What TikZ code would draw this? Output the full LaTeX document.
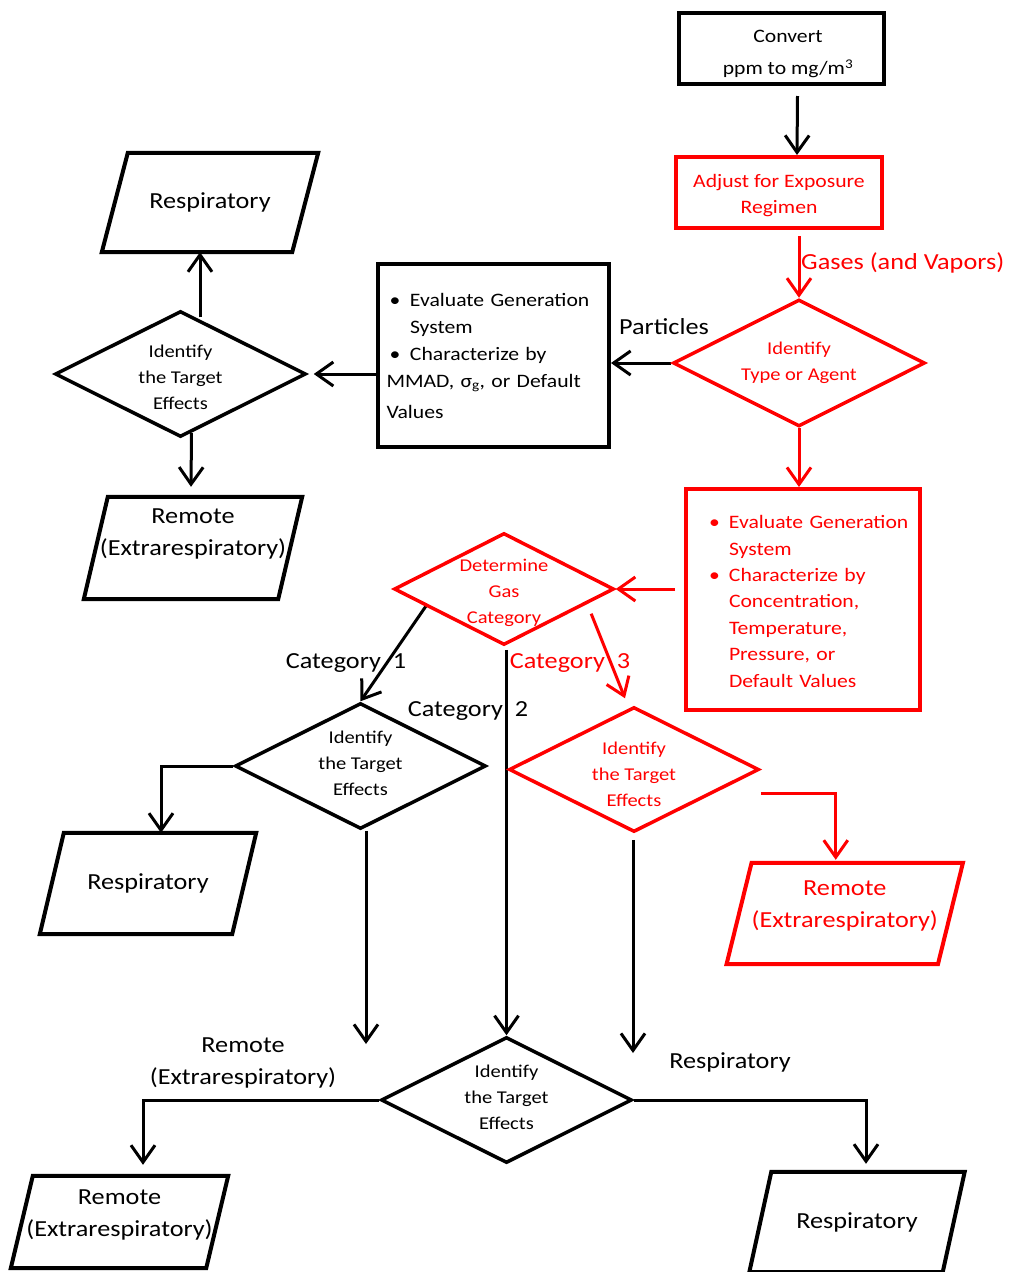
\documentclass[tikz,border=0pt]{standalone}
\usepackage{fontspec}
\setmainfont{Carlito}[FakeStretch=1.14]
\usepackage{tikz}
\usetikzlibrary{shapes.geometric,arrows.meta,calc}
\pgfdeclarelayer{edgelayer}
\pgfdeclarelayer{nodelayer}
\pgfsetlayers{edgelayer,nodelayer,main}
\tikzstyle{box}=[rectangle, draw=black, line width=4pt, inner sep=0pt, align=center, font=\fontsize{19}{26}\selectfont]
\tikzstyle{redbox}=[box, draw=red, text=red]
\tikzstyle{choice}=[diamond, aspect=2, draw=black, line width=3.5pt, inner sep=-20pt, minimum width=251pt, minimum height=126pt, align=center, font=\fontsize{18}{26}\selectfont]
\tikzstyle{redchoice}=[choice, draw=red, text=red]
\tikzstyle{effect}=[rectangle, inner sep=0pt, minimum width=216pt, minimum height=100pt, align=center, font=\fontsize{23}{32}\selectfont]
\tikzstyle{slant}=[draw=black, line width=4pt]
\tikzstyle{tag}=[inner sep=0pt, align=center, font=\fontsize{23}{32}\selectfont]
\tikzstyle{flow}=[draw=black, line width=3pt, -{Straight Barb[length=17pt, width=24pt]}]
\tikzstyle{redflow}=[flow, draw=red]

\begin{document}
\begin{tikzpicture}[x=1pt, y=-1pt]
	\useasboundingbox (0,0) rectangle (1010,1272);
	\begin{pgfonlayer}{nodelayer}
		\node [style=box, minimum width=205pt, minimum height=71pt] (0) at (781.5,48.5) {\hspace*{13pt}\raisebox{-9pt}[0pt][0pt]{\begin{tabular}{@{}c@{}}Convert\\[6pt]ppm to mg/m\textsuperscript{3}\end{tabular}}};
		\node [style=redbox, minimum width=206pt, minimum height=71pt] (1) at (779,192.5) {\rule{0pt}{19pt}Adjust for Exposure\\Regimen};
		\node [style=redchoice, minimum width=252pt, minimum height=127pt] (2) at (799,363) {Identify\\Type or Agent};
		\node [style=box, minimum width=231pt, minimum height=183pt, text width=214pt, align=left, font=\fontsize{19}{27}\selectfont] (3) at (493.5,355.5) {\hspace*{3pt}\makebox[20.5pt][l]{\textbullet}Evaluate Generation\\\hspace*{23.5pt}System\\\hspace*{3pt}\makebox[20.5pt][l]{\textbullet}Characterize by\\MMAD, σ\textsubscript{g}, or Default\\[4pt]Values};
		\node [style=choice] (4) at (180.5,374) {\rule{0pt}{19pt}Identify\\the Target\\Effects};
		\node [style=effect, minimum height=99pt] (5) at (210,202.5) {Respiratory};
		\node [style=effect, minimum width=218pt, minimum height=102pt] (6) at (193,548) {Remote\\(Extrarespiratory)\\\mbox{}};
		\node [style=redbox, minimum width=234pt, minimum height=221pt, text width=214pt, align=left, font=\fontsize{19}{26.4}\selectfont] (7) at (803,599.5) {\rule{0pt}{17pt}\hspace*{13pt}\makebox[20pt][l]{\textbullet}Evaluate Generation\\\hspace*{33pt}System\\\hspace*{13pt}\makebox[20pt][l]{\textbullet}Characterize by\\\hspace*{33pt}Concentration,\\\hspace*{33pt}Temperature,\\\hspace*{33pt}Pressure, or\\\hspace*{33pt}Default Values};
		\node [style=redchoice, minimum width=220pt, minimum height=112pt] (8) at (504,589) {\rule{0pt}{21pt}Determine\\Gas\\Category};
		\node [style=choice] (9) at (360.5,766) {Identify\\the Target\\Effects\\[-20pt]\mbox{}};
		\node [style=redchoice, minimum width=250pt, minimum height=125pt] (10) at (634,769.5) {\rule{0pt}{22pt}Identify\\the Target\\Effects};
		\node [style=effect, minimum height=101pt] (11) at (148,883.5) {Respiratory};
		\node [style=effect, text=red, minimum width=236pt, minimum height=101pt] (12) at (844.75,913.5) {Remote\\(Extrarespiratory)\\[-14pt]\mbox{}};
		\node [style=choice] (13) at (506.5,1100) {Identify\\the Target\\Effects\\[-20pt]\mbox{}};
		\node [style=effect, minimum width=217pt, minimum height=92pt] (14) at (119.5,1222) {Remote\\(Extrarespiratory)\\[-14pt]\mbox{}};
		\node [style=effect, minimum width=215pt] (15) at (857,1222) {Respiratory};
		\node [style=tag, text=red, anchor=west] (16) at (801,263) {Gases (and Vapors)};
		\node [style=tag] (17) at (664,327) {Particles};
		\node [style=tag] (18) at (346,663) {Category\ \ 1};
		\node [style=tag] (19) at (468,711) {Category\ \ 2};
		\node [style=tag, text=red] (20) at (570,663) {Category\ \ 3};
		\node [style=tag] (21) at (243,1063) {Remote\\(Extrarespiratory)};
		\node [style=tag] (22) at (730,1062) {Respiratory};
		\coordinate (23) at (366,1044);
		\coordinate (24) at (633,1053);
		% parallelogram outlines round the effect nodes
		\foreach \n/\d/\c in {5/26/black, 6/24/black, 11/24/black, 12/25/red, 14/22/black, 15/22/black}
			\draw [style=slant, draw=\c] ($(\n.north west)+(\d,0)$) -- (\n.north east) -- ($(\n.south east)+(-\d,0)$) -- (\n.south west) -- cycle;
	\end{pgfonlayer}
	\begin{pgfonlayer}{edgelayer}
		\draw [style=flow] ($(0.south)+(16,10)$) to ($(1.north)+(18,0)$);
		\draw [style=redflow] ($(1.south -| 2.north)+(0,6)$) to (2.north);
		\draw [style=flow] (2.west) to (2.west -| 3.east);
		\draw [style=flow] (4.east -| 3.west) to ($(4.east)+(6,0)$);
		\draw [style=flow] ($(4.north -| 5.south)+(-10,8)$) to ($(5.south)+(-10,0)$);
		\draw [style=flow] ($(4.south)+(11,-6)$) to ($(6.north)+(-2,-10)$);
		\draw [style=redflow] (2.south) to (2.south |- 7.north);
		\draw [style=redflow] ($(8.east -| 7.west)+(-9,0)$) to (8.east);
		\draw [style=flow] ($(8.west)!0.3!(8.south)$) to (9.north);
		\draw [style=flow] ($(8.south -| 13.north)+(0,3)$) to (13.north);
		\draw [style=redflow] ($(8.east)!0.22!(8.south)+(0,12)$) to ($(10.north)+(-9,-7)$);
		\draw [style=flow] (9.west) -| ($(11.north)+(13,0)$);
		\draw [style=flow] (9.south -| 23) to (23);
		\draw [style=redflow] ($(10.east)+(0,24)$) -| ($(12.north)+(-9,-3)$);
		\draw [style=flow] ($(10.south -| 24)+(0,6)$) to (24);
		\draw [style=flow] (13.west) -| ($(14.north)+(23.5,-11)$);
		\draw [style=flow] (13.east) -| ($(15.north)+(9,-8)$);
	\end{pgfonlayer}
\end{tikzpicture}
\end{document}
